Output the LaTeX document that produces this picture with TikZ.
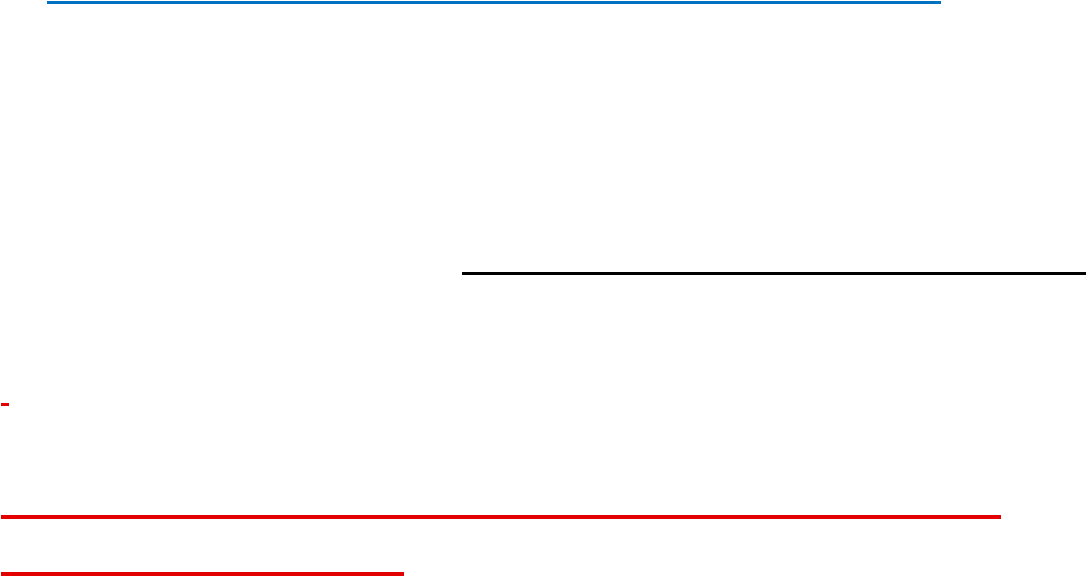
\documentclass[tikz,border=0pt]{standalone}
\usepackage{tikz}
\definecolor{ruleblue}{RGB}{0,112,192}
\definecolor{rulered}{RGB}{226,0,0}

\begin{document}
\begin{tikzpicture}[x=0.02cm,y=-0.02cm]
	\tikzstyle{blue rule}=[draw=ruleblue,line width=0.06cm]
	\tikzstyle{black rule}=[draw=black,line width=0.045cm]
	\tikzstyle{red rule}=[draw=rulered,line width=0.07cm]

	% Fix the page size
	\useasboundingbox (0,0) rectangle (1089,578);

	% End points of the rules
	\coordinate (B-1) at (47,2.5);
	\coordinate (B-2) at (941,2.5);
	\coordinate (K-1) at (462,273.5);
	\coordinate (K-2) at (1086,273.5);
	\coordinate (D-1) at (1,404.5);
	\coordinate (D-2) at (9,404.5);
	\coordinate (R-1) at (1,517);
	\coordinate (R-2) at (1001,517);
	\coordinate (S-1) at (1,574);
	\coordinate (S-2) at (404,574);

	% Draw the rules
	\draw[blue rule] (B-1) -- (B-2);
	\draw[black rule] (K-1) -- (K-2);
	\draw[red rule] (D-1) -- (D-2);
	\draw[red rule] (R-1) -- (R-2);
	\draw[red rule] (S-1) -- (S-2);
\end{tikzpicture}
\end{document}
